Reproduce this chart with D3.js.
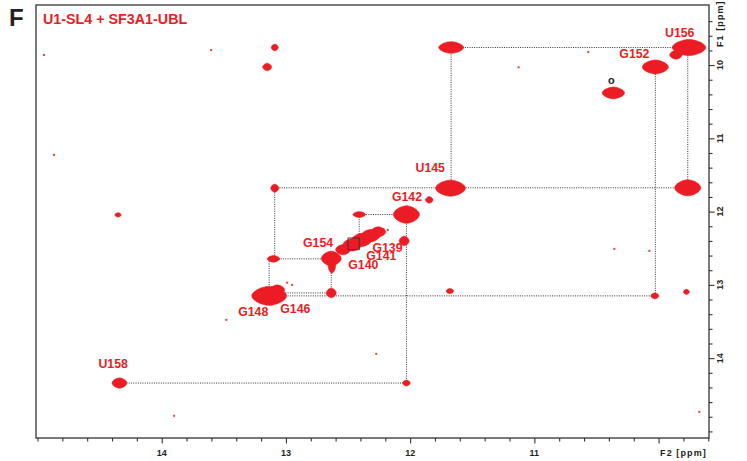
<!DOCTYPE html>
<html>
<head>
<meta charset="utf-8">
<script src="https://cdn.jsdelivr.net/npm/d3@7"></script>
<style>
  body { margin: 0; background: #fff; }
  svg { display: block; font-family: "Liberation Sans", Arial, Helvetica, sans-serif; }
</style>
</head>
<body>
<svg id="chart" width="747" height="461"></svg>
<script>
// Imino region of a 1H-1H NOESY spectrum with the sequential walk drawn as dotted lines.
const panelLetter = "F";
const sampleTitle = "U1-SL4 + SF3A1-UBL";

// Axis extents (ppm) and tick values
const f2Domain = [15.012, 9.594];
const f1Domain = [9.18, 15.09];
const f2Ticks = d3.range(0, 28).map(i => +(15.0 - i * 0.2).toFixed(1));
const f1Ticks = d3.range(0, 29).map(i => +(9.4 + i * 0.2).toFixed(1));
const f2Labels = [14, 13, 12, 11];
const f1Labels = [10, 11, 12, 13, 14];

// Peaks: centre shift in F2 and F1 (ppm) and half linewidths (ppm)
const peakF2 = [9.755, 9.86, 10.026, 10.364, 11.675, 11.846, 12.03,
                12.54, 12.466, 12.39, 12.32, 12.257,
                12.635, 12.63, 13.135, 13.07, 14.34,
                11.67, 9.765, 13.09, 13.09, 13.151, 10.03, 11.68, 9.776,
                13.10, 12.635, 12.41, 12.048, 12.03, 14.352];
const peakF1 = [9.76, 9.86, 10.026, 10.38, 11.68, 11.84, 12.04,
                12.52, 12.454, 12.386, 12.33, 12.277,
                12.64, 12.74, 13.15, 13.07, 14.34,
                9.76, 11.675, 11.68, 9.76, 10.026, 13.15, 13.085, 13.095,
                12.645, 13.11, 12.04, 12.40, 14.34, 12.045];
const peakW2 = [0.135, 0.05, 0.105, 0.09, 0.12, 0.03, 0.105,
                0.06, 0.075, 0.08, 0.075, 0.06,
                0.08, 0.03, 0.14, 0.06, 0.06,
                0.1, 0.105, 0.032, 0.028, 0.036, 0.032, 0.03, 0.024,
                0.05, 0.04, 0.05, 0.04, 0.03, 0.025];
const peakW1 = [0.11, 0.06, 0.095, 0.08, 0.11, 0.045, 0.12,
                0.07, 0.085, 0.09, 0.085, 0.07,
                0.1, 0.1, 0.13, 0.07, 0.07,
                0.08, 0.11, 0.055, 0.045, 0.05, 0.04, 0.035, 0.035,
                0.045, 0.065, 0.04, 0.065, 0.04, 0.03];

// Weak isolated points (noise) in F2, F1 (ppm)
const noiseF2 = [14.948, 13.602, 14.867, 13.90, 12.273, 11.127, 10.566, 10.356, 10.074,
                 13.48, 9.672, 12.215, 12.18, 12.95, 12.99];
const noiseF1 = [9.862, 9.794, 11.226, 14.787, 13.941, 10.03, 9.821, 12.509, 12.536,
                 13.477, 14.733, 12.24, 12.25, 13.00, 12.97];

// Assignment labels and the peak (F2, F1 in ppm) each one marks
const labelText = ["U156", "G152", "o", "U145", "G142", "G154", "G139", "G141", "G140", "G148", "G146", "U158"];
const labelF2 = [9.755, 10.026, 10.364, 11.675, 12.03, 12.54, 12.39, 12.466, 12.635, 13.135, 13.09, 14.34];
const labelF1 = [9.76, 10.026, 10.38, 11.68, 12.04, 12.52, 12.386, 12.454, 12.64, 13.15, 13.11, 14.34];

// Sequential walk: [F2 start, F1 start, F2 end, F1 end] in ppm
const walkSegments = [
  [11.67, 9.76, 9.765, 9.76],
  [11.67, 9.76, 11.67, 11.675],
  [9.765, 9.76, 9.765, 11.675],
  [13.09, 11.675, 9.765, 11.675],
  [10.026, 10.026, 10.026, 13.15],
  [13.135, 13.15, 10.026, 13.15],
  [13.09, 11.675, 13.09, 12.645],
  [13.135, 12.645, 12.635, 12.645],
  [13.135, 12.645, 13.135, 13.15],
  [12.635, 12.645, 12.635, 13.11],
  [13.135, 13.11, 12.635, 13.11],
  [12.41, 12.04, 12.03, 12.04],
  [12.41, 12.04, 12.41, 12.40],
  [12.03, 12.04, 12.03, 14.34],
  [14.34, 14.34, 12.03, 14.34]
];
// Boxed overlap region in the G139/G141/G154 cluster: [F2 a, F1 a, F2 b, F1 b]
const clusterBox = [12.50, 12.36, 12.41, 12.52];

// ---- layout ----
const plot = { left: 36, right: 709, top: 5, bottom: 438 };
const red = "#ec1c24";
const ink = "#222";

const svg = d3.select("#chart");
const x = d3.scaleLinear().domain(f2Domain).range([plot.left, plot.right]);
const y = d3.scaleLinear().domain(f1Domain).range([plot.top, plot.bottom]);

// Rounded-diamond contour outline for one peak
function peakPath(cx, cy, rx, ry) {
  const pts = d3.range(0, 64).map(i => {
    const t = i / 64 * 2 * Math.PI;
    const c = Math.cos(t), s = Math.sin(t);
    return [cx + rx * Math.sign(c) * Math.pow(Math.abs(c), 1.25),
            cy + ry * Math.sign(s) * Math.pow(Math.abs(s), 1.1)];
  });
  return d3.line().curve(d3.curveLinearClosed)(pts);
}

// Walk lines
svg.append("g")
  .selectAll("line")
  .data(walkSegments)
  .join("line")
  .attr("x1", d => x(d[0])).attr("y1", d => y(d[1]))
  .attr("x2", d => x(d[2])).attr("y2", d => y(d[3]))
  .attr("stroke", "#333")
  .attr("stroke-width", 1)
  .attr("stroke-dasharray", "1 1.3");

// Peaks
const peaks = peakF2.map((f2, i) => ({ f2, f1: peakF1[i], w2: peakW2[i], w1: peakW1[i] }));
svg.append("g")
  .selectAll("path")
  .data(peaks)
  .join("path")
  .attr("d", d => peakPath(x(d.f2), y(d.f1),
                           Math.abs(x(d.f2 + d.w2) - x(d.f2)),
                           Math.abs(y(d.f1 + d.w1) - y(d.f1))))
  .attr("fill", red)
  .attr("stroke", red)
  .attr("stroke-width", 0.6);

// Box in the crowded cluster
svg.append("rect")
  .attr("x", x(clusterBox[0])).attr("y", y(clusterBox[1]))
  .attr("width", x(clusterBox[2]) - x(clusterBox[0]))
  .attr("height", y(clusterBox[3]) - y(clusterBox[1]))
  .attr("fill", "none").attr("stroke", "#333").attr("stroke-width", 0.9);

// Noise points
svg.append("g")
  .selectAll("rect")
  .data(noiseF2.map((f2, i) => [f2, noiseF1[i]]))
  .join("rect")
  .attr("x", d => x(d[0]) - 1).attr("y", d => y(d[1]) - 1)
  .attr("width", 2).attr("height", 2)
  .attr("fill", red).attr("opacity", 0.85);

// Assignment labels, offset from their peaks
const labelOffset = {
  U156: [-24, -10.5], G152: [-36, -8.5], o: [-2, -9], U145: [-35, -16],
  G142: [-14.5, -14], G154: [-40, -2.5], G139: [10.7, 12], G141: [14, 15.5],
  G140: [17, 11], G148: [-31, 20.5], G146: [5.5, 20], U158: [-21, -15]
};
svg.append("g")
  .selectAll("text")
  .data(labelText.map((t, i) => ({ t, f2: labelF2[i], f1: labelF1[i] })))
  .join("text")
  .attr("x", d => x(d.f2) + labelOffset[d.t][0])
  .attr("y", d => y(d.f1) + labelOffset[d.t][1])
  .attr("text-anchor", d => d.t === "o" ? "middle" : "start")
  .attr("font-size", d => d.t === "o" ? 11 : 12.3)
  .attr("font-weight", "bold")
  .attr("fill", d => d.t === "o" ? "#222" : red)
  .text(d => d.t);

// Frame
svg.append("rect")
  .attr("x", plot.left).attr("y", plot.top)
  .attr("width", plot.right - plot.left).attr("height", plot.bottom - plot.top)
  .attr("fill", "none").attr("stroke", "#333").attr("stroke-width", 1.3);

// Bottom (F2) axis
const isMajor = v => Math.abs(v - Math.round(v)) < 1e-6 && v < 14.9 && v > 9.9;
const bottomAxis = svg.append("g")
  .attr("transform", `translate(0,${plot.bottom})`)
  .call(d3.axisBottom(x).tickValues(f2Ticks).tickSizeOuter(0).tickFormat(""));
bottomAxis.select(".domain").remove();
bottomAxis.selectAll(".tick line")
  .attr("y2", d => isMajor(d) ? 5.5 : 3.5)
  .attr("stroke", "#333").attr("stroke-width", 1.1);
svg.append("g")
  .selectAll("text")
  .data(f2Labels)
  .join("text")
  .attr("x", d => x(d)).attr("y", 456)
  .attr("text-anchor", "middle")
  .attr("font-size", 9).attr("font-weight", "bold").attr("fill", ink)
  .text(d => d);
svg.append("text")
  .attr("x", x(10) + 1.5).attr("y", 456)
  .attr("font-size", 9).attr("font-weight", "bold").attr("fill", ink)
  .attr("letter-spacing", 1.1)
  .text("F2 [ppm]");

// Right (F1) axis
const rightAxis = svg.append("g")
  .attr("transform", `translate(${plot.right},0)`)
  .call(d3.axisRight(y).tickValues(f1Ticks).tickSizeOuter(0).tickFormat(""));
rightAxis.select(".domain").remove();
rightAxis.selectAll(".tick line")
  .attr("x2", d => isMajor(d) ? 5.5 : 3.5)
  .attr("stroke", "#333").attr("stroke-width", 1.1);
svg.append("g")
  .selectAll("text")
  .data(f1Labels)
  .join("text")
  .attr("transform", d => `translate(723,${y(d)}) rotate(-90)`)
  .attr("text-anchor", "middle")
  .attr("font-size", 9).attr("font-weight", "bold").attr("fill", ink)
  .text(d => d);
svg.append("text")
  .attr("transform", `translate(723,${y(10) - 18}) rotate(-90)`)
  .attr("font-size", 9).attr("font-weight", "bold").attr("fill", ink)
  .attr("letter-spacing", 1.1)
  .text("F1 [ppm]");

// Panel letter and sample title
svg.append("text")
  .attr("x", 9).attr("y", 26)
  .attr("font-size", 24).attr("font-weight", "bold").attr("fill", "#222")
  .text(panelLetter);
svg.append("text")
  .attr("x", 43).attr("y", 23.5)
  .attr("font-size", 14.3).attr("font-weight", "bold").attr("fill", red)
  .text(sampleTitle);
</script>
</body>
</html>
